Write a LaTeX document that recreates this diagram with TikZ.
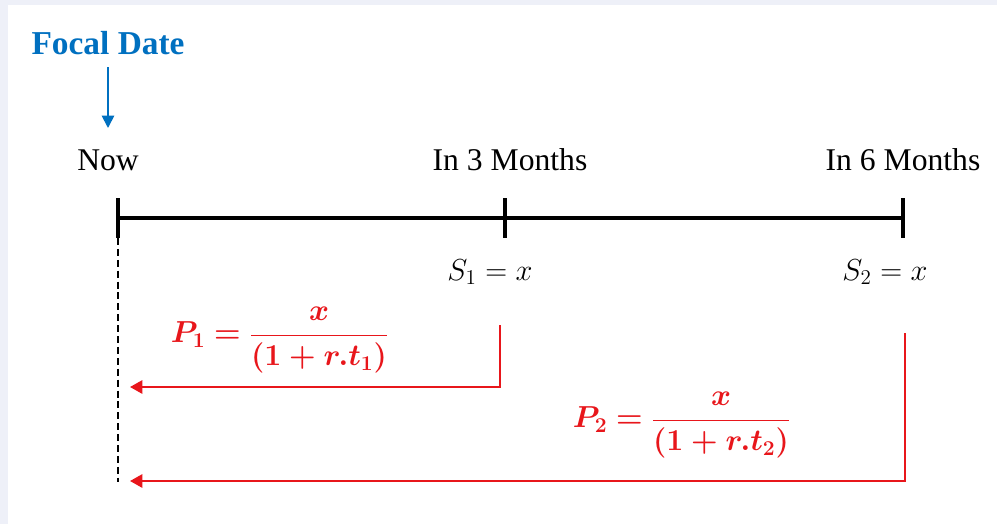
\documentclass[tikz,border=0pt]{standalone}
\usepackage{amsmath}
\usepackage{bm}
\usepackage{fontspec}
\setmainfont{Liberation Serif}
\usepackage{tikz}
\usetikzlibrary{arrows.meta, positioning, calc}
\definecolor{focalblue}{HTML}{0070C0}
\definecolor{pvred}{HTML}{E8161B}
\definecolor{framebg}{HTML}{EEF0F8}

\begin{document}
\begin{tikzpicture}[x=0.02cm, y=-0.02cm,
  timelbl/.style={font=\fontsize{18}{21}\selectfont, inner sep=0pt},
  mathlbl/.style={font=\fontsize{17}{20}\selectfont, inner sep=0pt},
  formula/.style={text=pvred, font=\fontsize{17}{20}\selectfont, inner sep=0pt},
  tick/.style={line width=2.4pt},
  pvarrow/.style={{Triangle[length=7pt, width=7.5pt]}-, pvred, line width=1.3pt}]

% Background
\fill[framebg] (0,0) rectangle (997,524);
\fill[white] (8,5) rectangle (997,524);

% Focal date
\node[text=focalblue, font=\bfseries\fontsize{19}{22}\selectfont, inner sep=0pt] (focal) at (108,43) {Focal Date};
\coordinate (focaltip) at (108,128);
\draw[-{Triangle[length=7pt, width=7pt]}, focalblue, line width=1pt] (108,67) -- (focaltip);

% Time labels
\node[timelbl] (now) at (108,160) {Now};
\node[timelbl] (m3) at (510,160) {In 3 Months};
\node[timelbl] (m6) at (903,160) {In 6 Months};

% Timeline
\coordinate (t0) at (118,218);
\coordinate (t1) at (505,218);
\coordinate (t2) at (903,218);
\draw[tick] (t0) -- (t2);
\foreach \t in {t0, t1, t2}
  \draw[tick] ($(\t)+(0,-20)$) -- ($(\t)+(0,20)$);

% Cash flows
\node[mathlbl] (s1) at (490,272) {$S_1 = x$};
\node[mathlbl] (s2) at (885,272) {$S_2 = x$};

% Focal date dashed line
\coordinate (dtop) at (118,238);
\coordinate (dbot) at (118,482);
\draw[line width=0.9pt, dash pattern=on 4pt off 2.2pt] (dtop) -- (dbot);

% Discounting arrows
\coordinate (a1s) at (500,325);
\coordinate (a1e) at (130,387);
\coordinate (a2s) at (905,333);
\coordinate (a2e) at (130,481);
\draw[pvarrow] (a1e) -- (a1e -| a1s) -- (a1s);
\draw[pvarrow] (a2e) -- (a2e -| a2s) -- (a2s);

% Present values
\node[formula] (p1) at (280,340) {$\bm{P_1 = \dfrac{x}{(1+r.t_1)}}$};
\node[formula] (p2) at (682,425) {$\bm{P_2 = \dfrac{x}{(1+r.t_2)}}$};

\end{tikzpicture}
\end{document}
